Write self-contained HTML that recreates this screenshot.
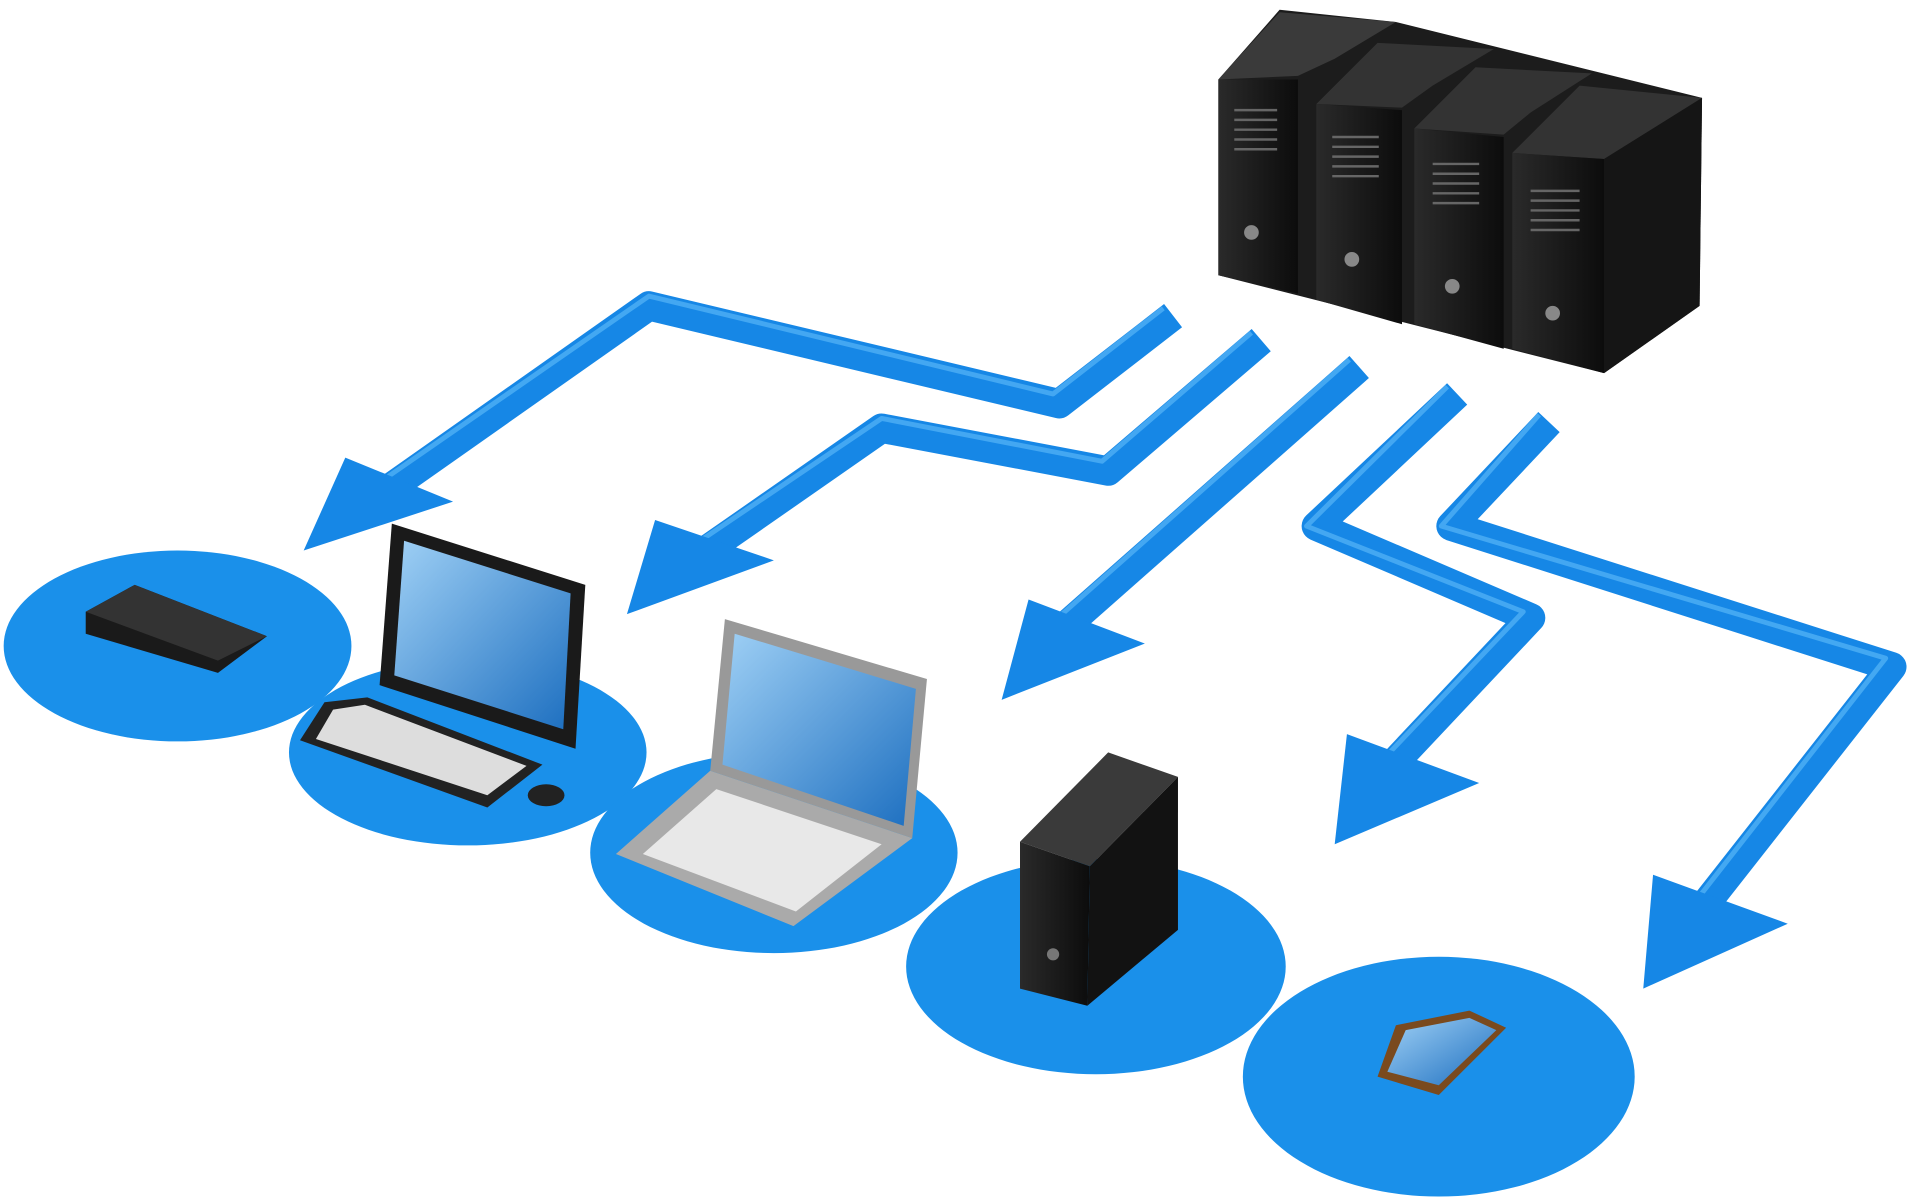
<!DOCTYPE html>
<html><head><meta charset="utf-8"><style>html,body{margin:0;padding:0;background:#fff;}svg{display:block}</style></head>
<body>
<svg width="1920" height="1199" viewBox="0 0 1568 980" preserveAspectRatio="none" xmlns="http://www.w3.org/2000/svg">
<defs>
<linearGradient id="scr" x1="0" y1="0" x2="1" y2="1"><stop offset="0" stop-color="#9fd0f5"/><stop offset="1" stop-color="#1d6fc0"/></linearGradient>
<linearGradient id="blk" x1="0" y1="0" x2="1" y2="0"><stop offset="0" stop-color="#2a2a2a"/><stop offset="1" stop-color="#0c0c0c"/></linearGradient>
</defs>
<g fill="#1a90ea">
<ellipse cx="145" cy="528" rx="142" ry="78"/>
<ellipse cx="382" cy="615" rx="146" ry="76"/>
<ellipse cx="632" cy="697" rx="150" ry="82"/>
<ellipse cx="895" cy="790" rx="155" ry="88"/>
<ellipse cx="1175" cy="880" rx="160" ry="98"/>
</g>
<g fill="none" stroke="#1687e6" stroke-width="24" stroke-linejoin="round">
<polyline points="958,258 865,330 530,250 300,412"/>
<polyline points="1030,278 905,385 720,350 565,458"/>
<polyline points="1110,300 870,512"/>
<polyline points="1190,322 1075,430 1250,505 1140,622"/>
<polyline points="1265,345 1185,430 1545,545 1392,740"/>
</g>
<g fill="none" stroke="#4fb0f5" stroke-width="4" stroke-linejoin="round" opacity="0.8">
<polyline points="950,252 860,322 530,242 296,404"/>
<polyline points="1022,272 900,377 720,342 560,450"/>
<polyline points="1102,294 864,505"/>
<polyline points="1182,316 1067,430 1244,500 1134,616"/>
<polyline points="1257,339 1177,430 1540,538 1386,735"/>
</g>
<g fill="#1687e6">
<polygon points="248,450 282,374 370,410"/>
<polygon points="512,502 535,425 632,458"/>
<polygon points="818,572 840,490 935,526"/>
<polygon points="1090,690 1100,600 1208,640"/>
<polygon points="1342,808 1350,715 1460,755"/>
</g>
<!-- servers -->
<g>
<polygon points="995,65 1045,8 1140,18 1390,80 1388,250 1310,305 995,225" fill="#1c1c1c"/>
<polygon points="995,65 1045,10 1140,18 1090,48 1060,62" fill="#3a3a3a"/>
<polygon points="1075,85 1125,35 1220,40 1170,70 1145,88" fill="#333"/>
<polygon points="1155,105 1205,55 1300,60 1250,92 1228,110" fill="#333"/>
<polygon points="1235,125 1290,70 1390,80 1310,130" fill="#333"/>
<polygon points="995,65 1060,65 1060,240 995,225" fill="url(#blk)"/>
<polygon points="1075,85 1145,90 1145,265 1075,245" fill="url(#blk)"/>
<polygon points="1155,105 1228,112 1228,285 1155,265" fill="url(#blk)"/>
<polygon points="1235,125 1310,130 1310,305 1235,285" fill="url(#blk)"/>
<polygon points="1310,130 1390,80 1388,250 1310,305" fill="#151515"/>
<g fill="#888"><circle cx="1022" cy="190" r="6"/><circle cx="1104" cy="212" r="6"/><circle cx="1186" cy="234" r="6"/><circle cx="1268" cy="256" r="6"/></g>
<g stroke="#666" stroke-width="2"><path d="M1008 90h35M1008 98h35M1008 106h35M1008 114h35M1008 122h35M1088 112h38M1088 120h38M1088 128h38M1088 136h38M1088 144h38M1170 134h38M1170 142h38M1170 150h38M1170 158h38M1170 166h38M1250 156h40M1250 164h40M1250 172h40M1250 180h40M1250 188h40"/></g>
</g>
<polygon points="70,500 110,478 218,520 178,550 70,518" fill="#1a1a1a"/>
<polygon points="70,500 110,478 218,520 178,540" fill="#333"/>
<polygon points="320,428 478,478 470,612 310,560" fill="#1a1a1a"/>
<polygon points="330,442 466,485 460,596 322,552" fill="url(#scr)"/>
<polygon points="265,574 300,570 443,625 398,660 245,605" fill="#222"/>
<polygon points="272,580 298,576 430,626 398,650 258,604" fill="#ddd"/>
<ellipse cx="446" cy="650" rx="15" ry="9" fill="#222"/>
<polygon points="592,506 757,555 745,685 580,630" fill="#999"/>
<polygon points="600,518 748,563 738,675 590,625" fill="url(#scr)"/>
<polygon points="580,630 745,685 648,757 503,698" fill="#aaa"/>
<polygon points="585,645 720,690 650,745 525,698" fill="#e8e8e8"/>
<polygon points="833,688 905,615 962,635 890,708" fill="#3a3a3a"/>
<polygon points="833,688 890,708 888,822 833,808" fill="url(#blk)"/>
<polygon points="890,708 962,635 962,760 888,822" fill="#121212"/>
<circle cx="860" cy="780" r="5" fill="#777"/>
<polygon points="1140,838 1200,826 1230,840 1175,895 1125,880" fill="#7a4a1e"/>
<polygon points="1148,842 1200,832 1222,842 1175,887 1133,876" fill="url(#scr)"/>
</svg>
</body></html>
